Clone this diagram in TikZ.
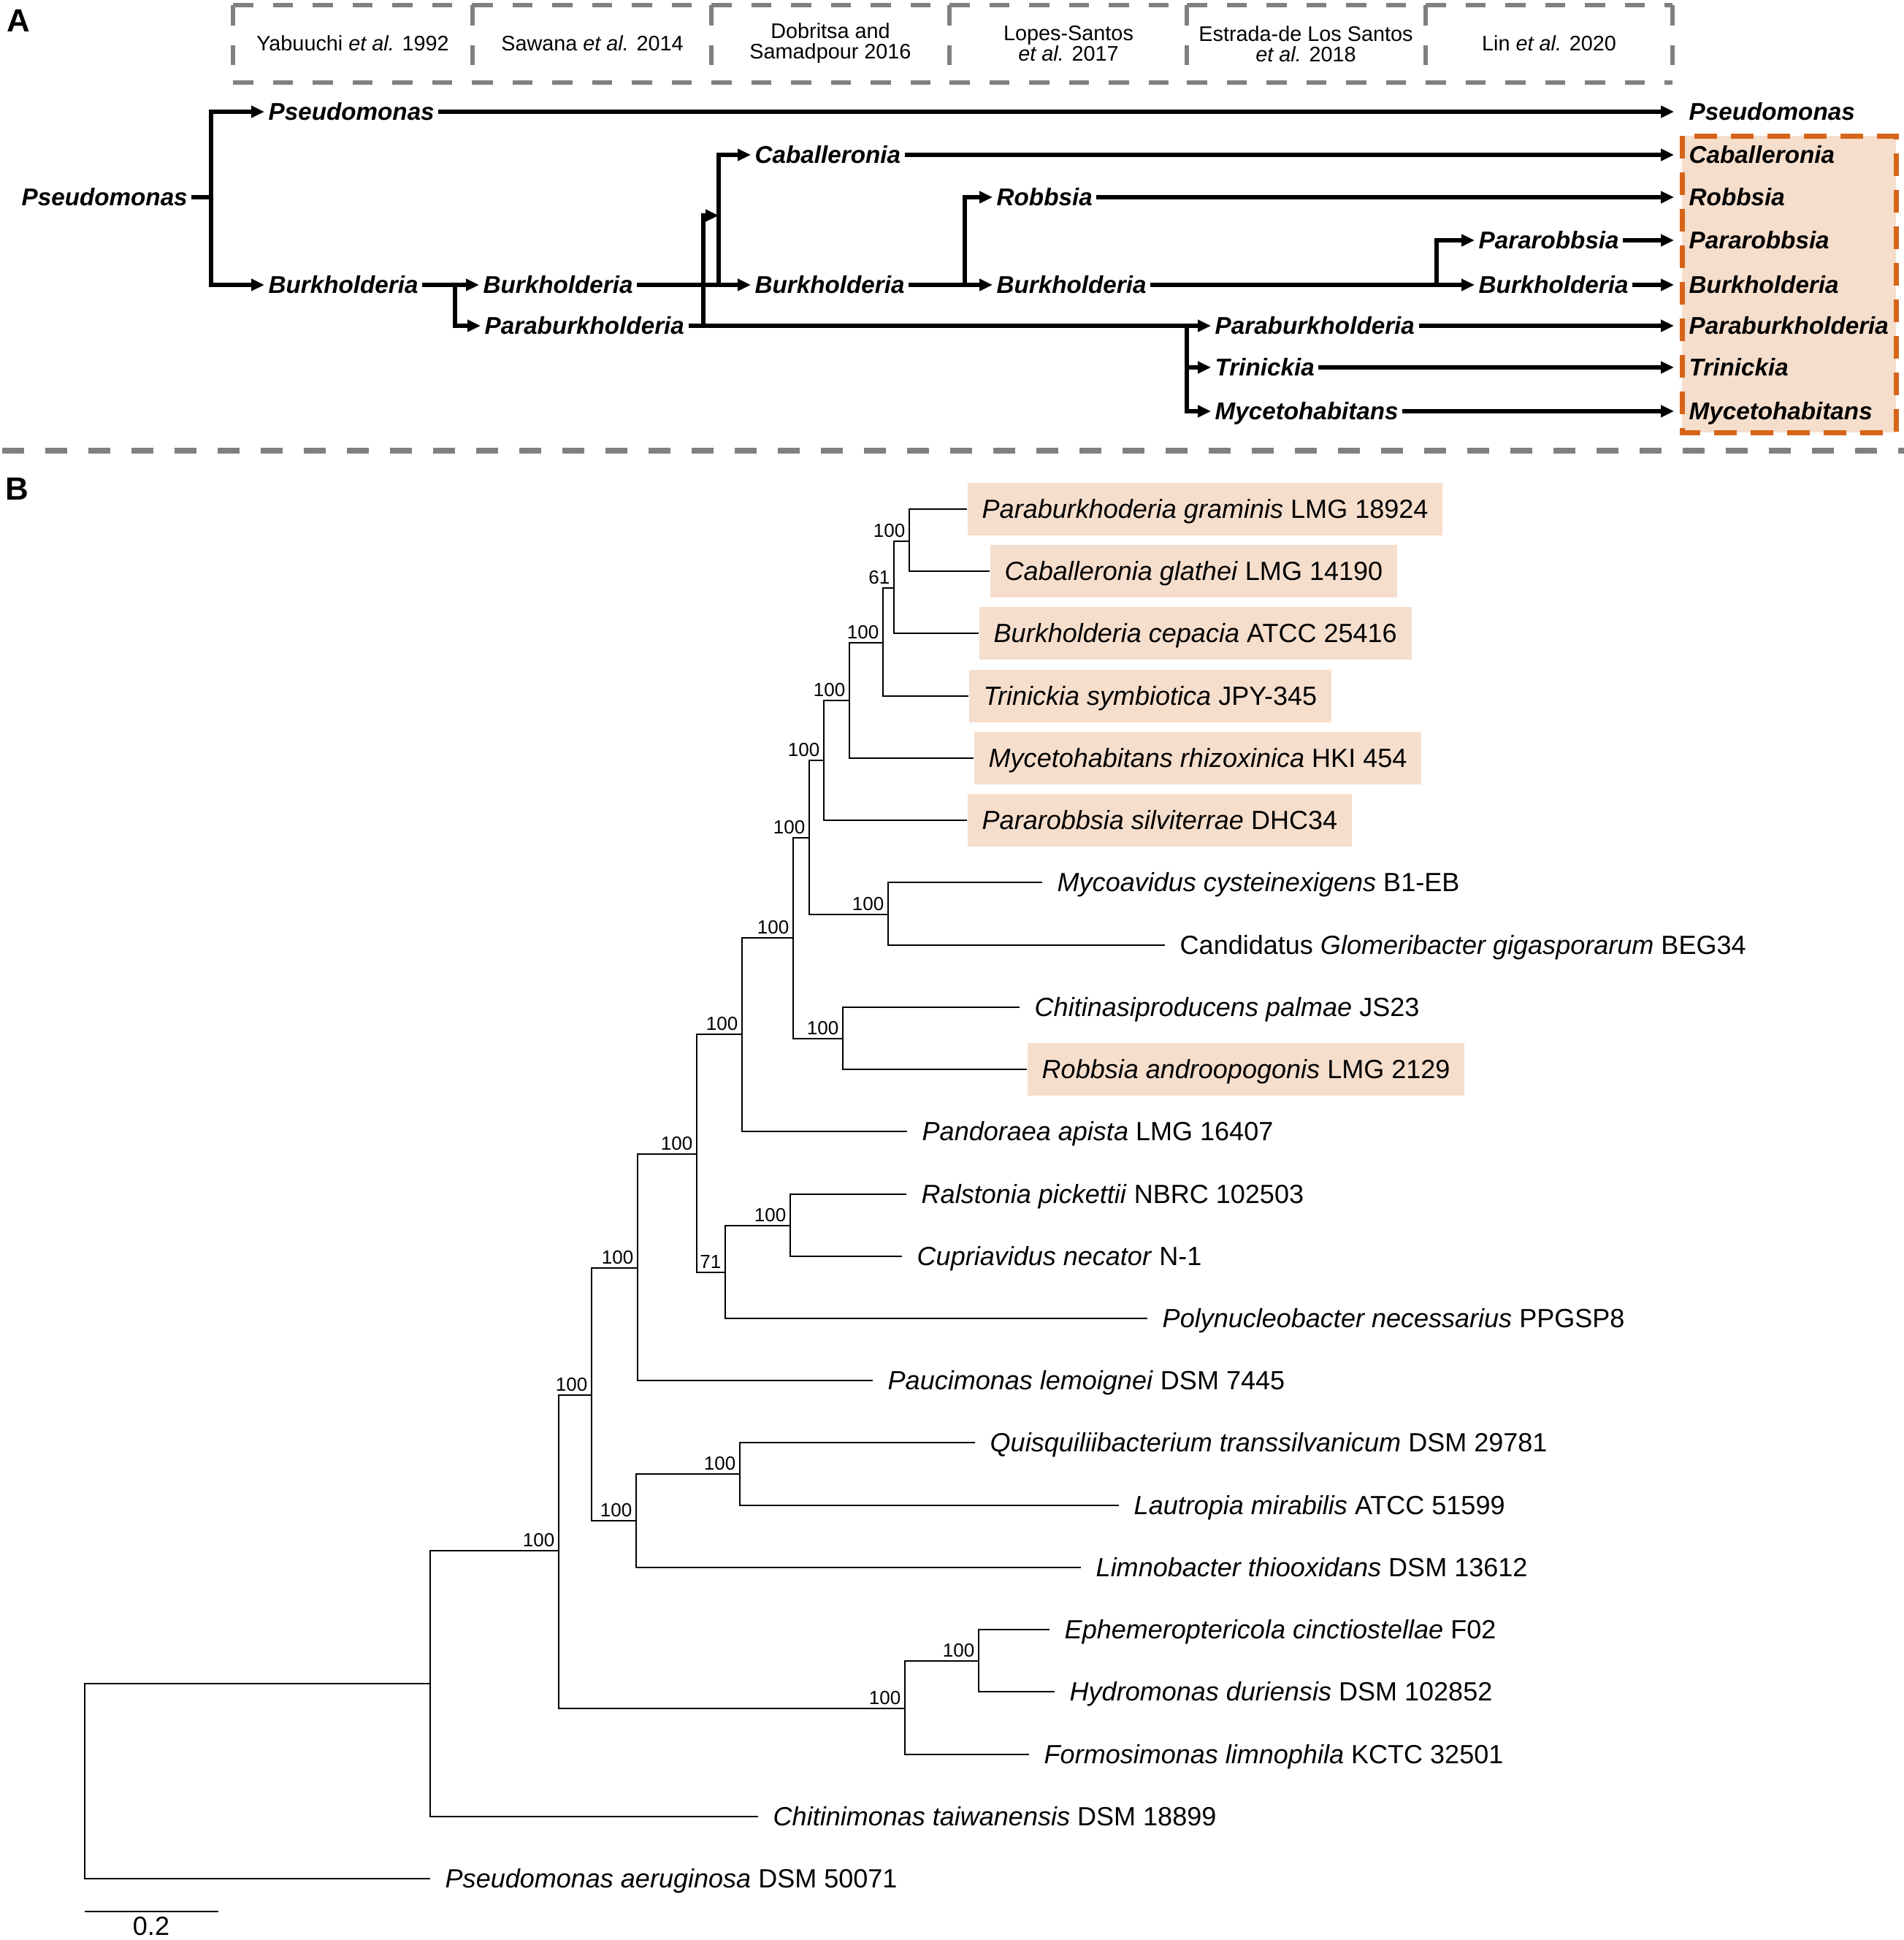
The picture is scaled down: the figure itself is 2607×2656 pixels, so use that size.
\documentclass[tikz,border=0pt]{standalone}
\usepackage{fontspec}
\setmainfont{Liberation Sans}
\usetikzlibrary{arrows.meta}

\definecolor{hlfill}{RGB}{246,222,204}
\definecolor{hlline}{RGB}{214,101,26}
\definecolor{boxgray}{RGB}{128,128,128}

\tikzset{
	panel/.style={font=\fontsize{12.5}{14}\selectfont\bfseries, inner sep=0pt},
	ref/.style={font=\fontsize{8.2}{8}\selectfont, align=center},
	refline/.style={draw=boxgray, line width=0.6mm, dash pattern=on 2.75mm off 2.7mm},
	sepline/.style={draw=boxgray, line width=0.75mm, dash pattern=on 3mm off 2.9mm},
	newbox/.style={draw=hlline, fill=hlfill, line width=0.7mm, dash pattern=on 3.1mm off 1.9mm},
	taxon/.style={anchor=west, inner xsep=0.5mm, inner ysep=0pt, text height=3.09mm, text depth=0.7mm, font=\fontsize{9.45}{11}\selectfont\bfseries\itshape},
	rtaxon/.style={taxon, inner xsep=2mm},
	link/.style={line width=0.55mm},
	arr/.style={link, -{Triangle[length=1.8mm,width=1.6mm]}},
	leaf/.style={anchor=west, inner xsep=2mm, inner ysep=0pt, minimum height=7.2mm, text height=3.39mm, text depth=0.8mm, font=\fontsize{10.25}{12}\selectfont},
	hl/.style={leaf, fill=hlfill},
	branch/.style={line width=0.55pt},
	boot/.style={anchor=south east, inner sep=0.5mm, font=\fontsize{7.4}{8}\selectfont},
}

\begin{document}
\begin{tikzpicture}[x=0.1mm, y=-0.1mm]
	\useasboundingbox (0, 0) rectangle (2607, 2656);

	% panel A
	\node[panel] (pa) at (25, 28) {A};

	\foreach \x in {319, 647, 974, 1300, 1625, 1952, 2290} {
		\draw[refline] (\x, 7) -- (\x, 113);
	}
	\foreach \xa/\xb in {319/647, 647/974, 974/1300, 1300/1625, 1625/1952, 1952/2290} {
		\draw[refline] (\xa, 7) -- (\xb, 7);
		\draw[refline] (\xa, 113) -- (\xb, 113);
	}

	\node[ref] (yab) at (483, 59) {Yabuuchi \textit{et al.} 1992};
	\node[ref] (saw) at (811, 59) {Sawana \textit{et al.} 2014};
	\node[ref] (dob) at (1137, 59) {Dobritsa and\\Samadpour 2016};
	\node[ref] (lop) at (1463, 60) {Lopes-Santos\\\textit{et al.} 2017};
	\node[ref] (est) at (1788, 60) {Estrada-de Los Santos\\\textit{et al.} 2018};
	\node[ref] (lin) at (2121, 59) {Lin \textit{et al.} 2020};

	\draw[newbox] (2303, 186) rectangle (2596, 592);

	\node[taxon] (root) at (24, 270) {Pseudomonas};
	\coordinate (b0) at (289, 270);
	\node[taxon] (a1) at (362, 153) {Pseudomonas};
	\node[taxon] (a2) at (362, 390) {Burkholderia};

	\coordinate (b1) at (623, 390);
	\node[taxon] (c1) at (656, 390) {Burkholderia};
	\node[taxon] (c2) at (658, 446) {Paraburkholderia};

	\coordinate (b2) at (984, 390);
	\coordinate (b4) at (963, 446);
	\coordinate (j1) at (984, 295);
	\node[taxon] (d1) at (1028, 212) {Caballeronia};
	\node[taxon] (d2) at (1028, 390) {Burkholderia};

	\coordinate (b5) at (1321, 390);
	\node[taxon] (e1) at (1359, 270) {Robbsia};
	\node[taxon] (e2) at (1359, 390) {Burkholderia};

	\coordinate (b6) at (1967, 390);
	\node[taxon] (f1) at (2019, 329) {Pararobbsia};
	\node[taxon] (f2) at (2019, 390) {Burkholderia};

	\coordinate (b3) at (1625, 446);
	\node[taxon] (g1) at (1658, 446) {Paraburkholderia};
	\node[taxon] (g2) at (1658, 503) {Trinickia};
	\node[taxon] (g3) at (1658, 563) {Mycetohabitans};

	\node[rtaxon] (z1) at (2292, 153) {Pseudomonas};
	\node[rtaxon] (z2) at (2292, 212) {Caballeronia};
	\node[rtaxon] (z3) at (2292, 270) {Robbsia};
	\node[rtaxon] (z4) at (2292, 329) {Pararobbsia};
	\node[rtaxon] (z5) at (2292, 390) {Burkholderia};
	\node[rtaxon] (z6) at (2292, 446) {Paraburkholderia};
	\node[rtaxon] (z7) at (2292, 503) {Trinickia};
	\node[rtaxon] (z8) at (2292, 563) {Mycetohabitans};

	\draw[link] (root) -- (b0);
	\draw[arr] (b0) |- (a1);
	\draw[arr] (b0) |- (a2);
	\draw[arr] (a1) -- (z1);

	\draw[link] (a2) -- (b1);
	\draw[arr] (b1) -- (c1);
	\draw[arr] (b1) |- (c2);

	\draw[link] (c1) -- (b2);
	\draw[arr] (b2) -- (d2);
	\draw[arr] (b2) |- (d1);
	\draw[link] (c2) -- (b3);
	\draw[arr] (b4) |- (j1);
	\draw[arr] (d1) -- (z2);

	\draw[link] (d2) -- (b5);
	\draw[arr] (b5) |- (e1);
	\draw[arr] (b5) -- (e2);
	\draw[arr] (e1) -- (z3);

	\draw[link] (e2) -- (b6);
	\draw[arr] (b6) |- (f1);
	\draw[arr] (b6) -- (f2);
	\draw[arr] (f1) -- (z4);
	\draw[arr] (f2) -- (z5);

	\draw[arr] (b3) -- (g1);
	\draw[arr] (b3) |- (g2);
	\draw[arr] (b3) |- (g3);
	\draw[arr] (g1) -- (z6);
	\draw[arr] (g2) -- (z7);
	\draw[arr] (g3) -- (z8);

	\draw[sepline] (3, 617) -- (2607, 617);

	% panel B
	\node[panel] (pb) at (23, 669) {B};

	\node[hl] (l0) at (1324, 697) {\textit{Paraburkhoderia graminis} LMG 18924};
	\node[hl] (l1) at (1355, 782) {\textit{Caballeronia glathei} LMG 14190};
	\node[hl] (l2) at (1340, 867) {\textit{Burkholderia cepacia} ATCC 25416};
	\node[hl] (l3) at (1326, 953) {\textit{Trinickia symbiotica} JPY-345};
	\node[hl] (l4) at (1333, 1038) {\textit{Mycetohabitans rhizoxinica} HKI 454};
	\node[hl] (l5) at (1324, 1123) {\textit{Pararobbsia silviterrae} DHC34};
	\node[leaf] (l6) at (1427, 1208) {\textit{Mycoavidus cysteinexigens} B1-EB};
	\node[leaf] (l7) at (1595, 1294) {Candidatus \textit{Glomeribacter gigasporarum} BEG34};
	\node[leaf] (l8) at (1396, 1379) {\textit{Chitinasiproducens palmae} JS23};
	\node[hl] (l9) at (1406, 1464) {\textit{Robbsia androopogonis} LMG 2129};
	\node[leaf] (l10) at (1242, 1549) {\textit{Pandoraea apista} LMG 16407};
	\node[leaf] (l11) at (1241, 1635) {\textit{Ralstonia pickettii} NBRC 102503};
	\node[leaf] (l12) at (1235, 1720) {\textit{Cupriavidus necator} N-1};
	\node[leaf] (l13) at (1571, 1805) {\textit{Polynucleobacter necessarius} PPGSP8};
	\node[leaf] (l14) at (1195, 1890) {\textit{Paucimonas lemoignei} DSM 7445};
	\node[leaf] (l15) at (1335, 1975) {\textit{Quisquiliibacterium transsilvanicum} DSM 29781};
	\node[leaf] (l16) at (1532, 2061) {\textit{Lautropia mirabilis} ATCC 51599};
	\node[leaf] (l17) at (1480, 2146) {\textit{Limnobacter thiooxidans} DSM 13612};
	\node[leaf] (l18) at (1437, 2231) {\textit{Ephemeroptericola cinctiostellae} F02};
	\node[leaf] (l19) at (1444, 2316) {\textit{Hydromonas duriensis} DSM 102852};
	\node[leaf] (l20) at (1409, 2402) {\textit{Formosimonas limnophila} KCTC 32501};
	\node[leaf] (l21) at (1038, 2487) {\textit{Chitinimonas taiwanensis} DSM 18899};
	\node[leaf] (l22) at (589, 2572) {\textit{Pseudomonas aeruginosa} DSM 50071};

	\coordinate (n13) at (1245, 741);
	\coordinate (n12) at (1224, 805);
	\coordinate (n11) at (1209, 880);
	\coordinate (n10) at (1163, 959);
	\coordinate (n9) at (1128, 1041);
	\coordinate (nmy) at (1216, 1252);
	\coordinate (n8) at (1108, 1147);
	\coordinate (nrb) at (1154, 1422);
	\coordinate (n7) at (1086, 1284);
	\coordinate (n6) at (1016, 1416);
	\coordinate (nra) at (1082, 1678);
	\coordinate (n71) at (993, 1742);
	\coordinate (n5) at (954, 1580);
	\coordinate (n4) at (873, 1736);
	\coordinate (nql) at (1013, 2018);
	\coordinate (nq) at (871, 2082);
	\coordinate (n3) at (810, 1910);
	\coordinate (neh) at (1340, 2274);
	\coordinate (nep) at (1239, 2339);
	\coordinate (n2) at (765, 2123);
	\coordinate (n1) at (589, 2305);
	\coordinate (nr) at (116, 2439);

	\foreach \n/\a/\b in {n13/l0/l1, n12/n13/l2, n11/n12/l3, n10/n11/l4, n9/n10/l5,
		nmy/l6/l7, n8/n9/nmy, nrb/l8/l9, n7/n8/nrb, n6/n7/l10, nra/l11/l12,
		n71/nra/l13, n5/n6/n71, n4/n5/l14, nql/l15/l16, nq/nql/l17, n3/n4/nq,
		neh/l18/l19, nep/neh/l20, n2/n3/nep, n1/n2/l21, nr/n1/l22} {
		\draw[branch] (\n) |- (\a);
		\draw[branch] (\n) |- (\b);
	}

	\foreach \n/\v in {n13/100, n12/61, n11/100, n10/100, n9/100, nmy/100,
		n8/100, nrb/100, n7/100, n6/100, nra/100, n71/71, n5/100, n4/100,
		nql/100, nq/100, n3/100, neh/100, nep/100, n2/100} {
		\node[boot] (bs\n) at (\n) {\v};
	}

	% scale bar
	\coordinate (sb0) at (116, 2617);
	\coordinate (sb1) at (299, 2617);
	\draw[branch, line width=0.7pt] (sb0) -- (sb1);
	\node[font=\fontsize{10.25}{12}\selectfont, anchor=north, inner sep=0.3mm] (sbl) at (207, 2621) {0.2};
\end{tikzpicture}
\end{document}
